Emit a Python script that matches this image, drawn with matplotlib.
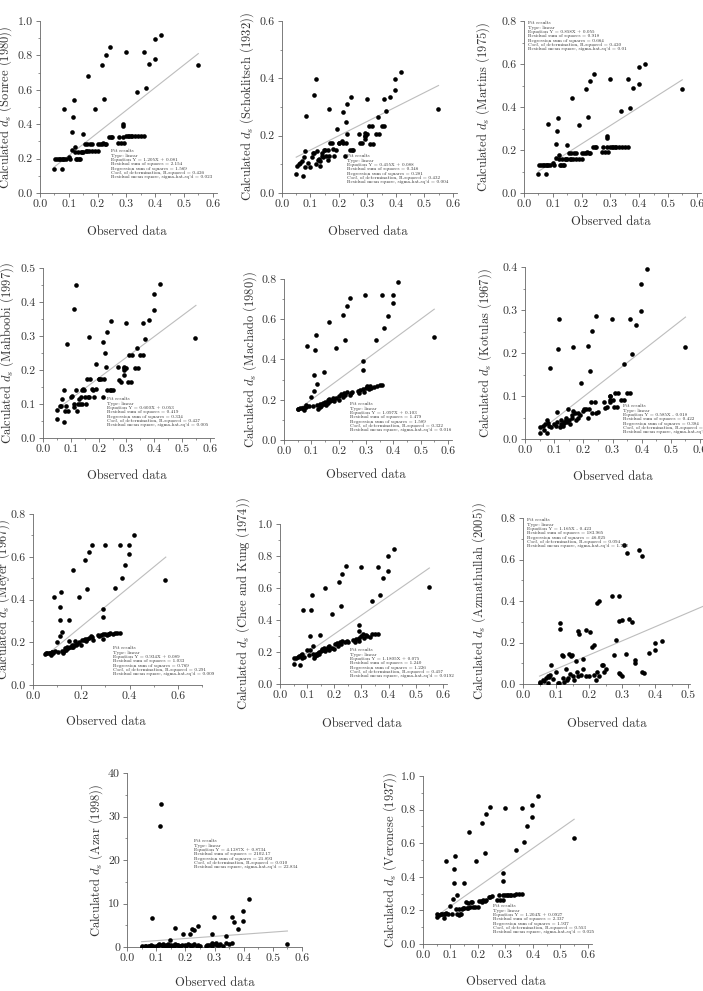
import matplotlib
matplotlib.use("Agg")
import matplotlib.pyplot as plt
from matplotlib.ticker import MultipleLocator, AutoMinorLocator, FormatStrFormatter

plt.rcParams['font.family'] = 'serif'
plt.rcParams['font.serif'] = ['cmr10', 'DejaVu Serif']
plt.rcParams['mathtext.fontset'] = 'cm'
plt.rcParams['axes.formatter.use_mathtext'] = True
plt.rcParams['axes.unicode_minus'] = False

# observed scour depths (shared by every panel)
obs_up = [0.085, 0.111, 0.113, 0.118, 0.148, 0.166, 0.192, 0.216, 0.224, 0.230, 0.243,
          0.290, 0.290, 0.298, 0.338, 0.360, 0.367, 0.380, 0.398, 0.398, 0.419, 0.548]
obs_low = [0.050, 0.052, 0.060, 0.065, 0.070, 0.075, 0.077, 0.080, 0.082, 0.090,
           0.100, 0.105, 0.110, 0.120, 0.122, 0.125, 0.130, 0.132, 0.135, 0.140,
           0.142, 0.145, 0.150, 0.155, 0.160, 0.162, 0.165, 0.170, 0.175, 0.180,
           0.182, 0.190, 0.200, 0.202, 0.210, 0.215, 0.220, 0.225, 0.230, 0.240,
           0.245, 0.250, 0.270, 0.275, 0.280, 0.290, 0.292, 0.300, 0.305, 0.310,
           0.315, 0.320, 0.330, 0.340, 0.350, 0.360]
observed = obs_up + obs_low

# calculated values, same order as `observed`
calc_sonree = [0.49, 0.355, 0.444, 0.54, 0.344, 0.68, 0.488, 0.747, 0.544, 0.80, 0.85,
               0.40, 0.39, 0.817, 0.587, 0.817, 0.61, 0.751, 0.898, 0.778, 0.921, 0.743,
               0.14, 0.20, 0.20, 0.20, 0.20, 0.14, 0.20, 0.20, 0.20, 0.20,
               0.21, 0.20, 0.25, 0.24, 0.27, 0.20, 0.20, 0.24, 0.20, 0.20,
               0.24, 0.24, 0.24, 0.285, 0.245, 0.285, 0.245, 0.245, 0.285, 0.285,
               0.245, 0.245, 0.245, 0.285, 0.285, 0.285, 0.29, 0.285, 0.285, 0.328,
               0.328, 0.328, 0.29, 0.328, 0.29, 0.328, 0.29, 0.33, 0.33, 0.33,
               0.33, 0.33, 0.33, 0.33, 0.33, 0.33]
calc_schoklitsch = [0.269, 0.14, 0.342, 0.397, 0.15, 0.292, 0.222, 0.283, 0.249, 0.309, 0.336,
                    0.21, 0.20, 0.329, 0.264, 0.329, 0.286, 0.336, 0.398, 0.359, 0.422, 0.294,
                    0.065, 0.095, 0.10, 0.105, 0.11, 0.06, 0.125, 0.145, 0.09, 0.105,
                    0.09, 0.125, 0.14, 0.10, 0.145, 0.115, 0.12, 0.095, 0.11, 0.13,
                    0.14, 0.125, 0.15, 0.13, 0.15, 0.115, 0.13, 0.175, 0.175, 0.155,
                    0.13, 0.15, 0.175, 0.175, 0.18, 0.175, 0.13, 0.175, 0.205, 0.15,
                    0.15, 0.15, 0.205, 0.175, 0.175, 0.20, 0.19, 0.205, 0.235, 0.17,
                    0.235, 0.17, 0.205, 0.205, 0.235, 0.235]
calc_martins = [0.32, 0.23, 0.29, 0.35, 0.224, 0.443, 0.317, 0.483, 0.352, 0.522, 0.554,
                0.263, 0.255, 0.531, 0.383, 0.531, 0.397, 0.49, 0.584, 0.507, 0.60, 0.483,
                0.09, 0.128, 0.128, 0.128, 0.128, 0.09, 0.128, 0.128, 0.128, 0.128,
                0.14, 0.128, 0.165, 0.158, 0.175, 0.128, 0.128, 0.158, 0.128, 0.128,
                0.158, 0.158, 0.158, 0.185, 0.158, 0.185, 0.158, 0.158, 0.185, 0.185,
                0.158, 0.158, 0.158, 0.185, 0.185, 0.185, 0.19, 0.185, 0.185, 0.215,
                0.215, 0.215, 0.19, 0.215, 0.19, 0.215, 0.19, 0.215, 0.215, 0.215,
                0.215, 0.215, 0.215, 0.215, 0.215, 0.215]
calc_mahboobi = [0.276, 0.10, 0.379, 0.449, 0.14, 0.296, 0.218, 0.281, 0.25, 0.311, 0.343,
                 0.21, 0.205, 0.338, 0.265, 0.338, 0.291, 0.346, 0.424, 0.377, 0.453, 0.293,
                 0.055, 0.082, 0.095, 0.095, 0.115, 0.047, 0.14, 0.08, 0.095, 0.08,
                 0.12, 0.125, 0.09, 0.14, 0.08, 0.10, 0.115, 0.10, 0.12, 0.14,
                 0.10, 0.145, 0.12, 0.10, 0.175, 0.12, 0.12, 0.175, 0.145, 0.14,
                 0.12, 0.145, 0.175, 0.175, 0.175, 0.12, 0.175, 0.21, 0.14, 0.14,
                 0.14, 0.14, 0.21, 0.17, 0.165, 0.185, 0.20, 0.205, 0.165, 0.245,
                 0.165, 0.245, 0.205, 0.205, 0.245, 0.245]
calc_machado = [0.468, 0.322, 0.445, 0.521, 0.337, 0.588, 0.455, 0.622, 0.497, 0.667, 0.704,
                0.395, 0.349, 0.719, 0.498, 0.719, 0.559, 0.614, 0.719, 0.68, 0.783, 0.51,
                0.155, 0.155, 0.158, 0.16, 0.158, 0.148, 0.165, 0.172, 0.165, 0.17,
                0.212, 0.17, 0.244, 0.175, 0.277, 0.155, 0.165, 0.18, 0.17, 0.18,
                0.185, 0.18, 0.19, 0.175, 0.20, 0.185, 0.205, 0.195, 0.20, 0.21,
                0.195, 0.21, 0.20, 0.22, 0.23, 0.215, 0.235, 0.225, 0.24, 0.225,
                0.235, 0.24, 0.245, 0.235, 0.25, 0.255, 0.24, 0.26, 0.27, 0.255,
                0.27, 0.26, 0.265, 0.27, 0.275, 0.275]
calc_kotulas = [0.165, 0.062, 0.21, 0.28, 0.07, 0.215, 0.13, 0.217, 0.159, 0.252, 0.285,
                0.10, 0.09, 0.278, 0.174, 0.278, 0.198, 0.266, 0.36, 0.297, 0.395, 0.215,
                0.015, 0.027, 0.03, 0.022, 0.035, 0.014, 0.045, 0.038, 0.03, 0.028,
                0.035, 0.03, 0.04, 0.028, 0.045, 0.035, 0.03, 0.04, 0.037, 0.045,
                0.05, 0.04, 0.045, 0.035, 0.055, 0.05, 0.065, 0.06, 0.045, 0.05,
                0.06, 0.055, 0.065, 0.07, 0.07, 0.048, 0.07, 0.085, 0.06, 0.085,
                0.06, 0.062, 0.085, 0.072, 0.075, 0.085, 0.10, 0.09, 0.075, 0.108,
                0.075, 0.108, 0.09, 0.09, 0.108, 0.108]
calc_meyer = [0.41, 0.305, 0.367, 0.433, 0.305, 0.539, 0.413, 0.586, 0.448, 0.62, 0.653,
              0.355, 0.32, 0.656, 0.456, 0.656, 0.50, 0.563, 0.656, 0.613, 0.703, 0.492,
              0.145, 0.15, 0.148, 0.15, 0.152, 0.14, 0.155, 0.155, 0.15, 0.16,
              0.20, 0.155, 0.231, 0.16, 0.25, 0.15, 0.16, 0.175, 0.165, 0.175,
              0.178, 0.175, 0.205, 0.18, 0.18, 0.185, 0.18, 0.185, 0.205, 0.185,
              0.19, 0.20, 0.185, 0.21, 0.21, 0.215, 0.205, 0.215, 0.22, 0.23,
              0.225, 0.21, 0.235, 0.23, 0.235, 0.215, 0.24, 0.24, 0.235, 0.24,
              0.24, 0.242, 0.24, 0.242, 0.242, 0.242]
calc_chee_kung = [0.465, 0.298, 0.465, 0.558, 0.306, 0.60, 0.4375, 0.6375, 0.49, 0.69, 0.74,
                  0.367, 0.333, 0.729, 0.517, 0.729, 0.558, 0.6625, 0.798, 0.708, 0.844, 0.604,
                  0.125, 0.16, 0.165, 0.17, 0.175, 0.12, 0.18, 0.165, 0.185, 0.17,
                  0.21, 0.18, 0.215, 0.19, 0.24, 0.165, 0.175, 0.19, 0.18, 0.195,
                  0.20, 0.19, 0.205, 0.22, 0.21, 0.225, 0.205, 0.22, 0.23, 0.215,
                  0.235, 0.225, 0.22, 0.25, 0.255, 0.24, 0.26, 0.25, 0.27, 0.26,
                  0.27, 0.265, 0.275, 0.265, 0.28, 0.29, 0.27, 0.30, 0.31, 0.29,
                  0.305, 0.30, 0.295, 0.31, 0.31, 0.315]
calc_azmathullah = [0.09, 0.265, 0.294, 0.14, 0.14, 0.254, 0.259, 0.19, 0.39, 0.40, 0.09,
                    0.426, 0.305, 0.308, 0.10, 0.618, 0.053, 0.15, 0.196, 0.165, 0.209, 0.25,
                    0.005, 0.01, 0.02, 0.015, 0.03, 0.04, 0.005, 0.035, 0.045, 0.025,
                    0.06, 0.005, 0.005, 0.03, 0.135, 0.01, 0.07, 0.02, 0.03, 0.145,
                    0.05, 0.135, 0.04, 0.02, 0.11, 0.06, 0.04, 0.24, 0.045, 0.12,
                    0.07, 0.04, 0.04, 0.25, 0.18, 0.045, 0.02, 0.06, 0.04, 0.09,
                    0.06, 0.07, 0.426, 0.14, 0.21, 0.055, 0.05, 0.04, 0.668, 0.145,
                    0.631, 0.312, 0.297, 0.115, 0.646, 0.06]
calc_azar = [6.6, 0.5, 27.8, 32.8, 1.6, 4.3, 3.1, 3.1, 4.1, 3.9, 4.9,
             2.9, 1.0, 7.0, 2.5, 7.0, 5.7, 4.1, 8.3, 6.0, 11.0, 0.6,
             0.2, 0.1, 0.3, 0.2, 0.1, 0.2, 0.3, 0.1, 0.4, 0.2,
             0.3, 0.5, 0.6, 0.4, 0.7, 0.3, 0.2, 0.5, 0.3, 0.6,
             0.4, 0.3, 0.5, 0.2, 0.4, 0.3, 0.6, 0.5, 0.4, 0.3,
             0.2, 0.4, 0.5, 0.3, 0.6, 0.4, 0.3, 0.5, 0.7, 0.2,
             0.4, 0.3, 0.2, 0.5, 0.4, 0.6, 0.3, 0.8, 1.0, 0.4,
             0.5, 0.7, 0.3, 0.9, 0.8, 0.9]
calc_veronese = [0.494, 0.362, 0.445, 0.526, 0.362, 0.664, 0.494, 0.721, 0.541, 0.773, 0.816,
                 0.421, 0.377, 0.812, 0.559, 0.812, 0.609, 0.704, 0.83, 0.757, 0.883, 0.628,
                 0.16, 0.18, 0.175, 0.18, 0.18, 0.155, 0.18, 0.18, 0.185, 0.18,
                 0.225, 0.18, 0.265, 0.21, 0.289, 0.18, 0.175, 0.21, 0.18, 0.18,
                 0.21, 0.215, 0.215, 0.25, 0.215, 0.245, 0.215, 0.22, 0.25, 0.25,
                 0.22, 0.22, 0.22, 0.255, 0.255, 0.25, 0.26, 0.255, 0.26, 0.28,
                 0.28, 0.285, 0.26, 0.29, 0.26, 0.29, 0.26, 0.29, 0.29, 0.29,
                 0.29, 0.29, 0.29, 0.295, 0.295, 0.295]

names = ['Sonree (1980)', 'Schoklitsch (1932)', 'Martins (1975)', 'Mahboobi (1997)',
         'Machado (1980)', 'Kotulas (1967)', 'Meyer (1967)', 'Chee and Kung (1974)',
         'Azmathullah (2005)', 'Azar (1998)', 'Veronese (1937)']
calculated = [calc_sonree, calc_schoklitsch, calc_martins, calc_mahboobi, calc_machado,
              calc_kotulas, calc_meyer, calc_chee_kung, calc_azmathullah, calc_azar,
              calc_veronese]

# fitted lines
fit_slope = [1.317, 0.50, 0.852, 0.611, 1.0, 0.53, 0.928, 1.18, 0.68, 4.92, 1.15]
fit_intercept = [0.086, 0.10, 0.058, 0.054, 0.10, -0.008, 0.088, 0.076, 0.004, 0.97, 0.11]

# numbers printed in the fit-results boxes
fit_eq = ['1.205X + 0.081', '0.455X + 0.088', '0.858X + 0.055', '0.600X + 0.053',
          '1.097X + 0.103', '0.585X - 0.018', '0.934X + 0.089', '1.1805X + 0.075',
          '1.165X - 0.423', '4.1287X + 0.8734', '1.204X + 0.0927']
fit_rss = ['2.154', '0.346', '0.918', '0.419', '1.479', '0.422', '1.033', '1.240',
           '183.965', '2102.17', '2.337']
fit_reg = ['1.569', '0.281', '0.664', '0.334', '1.589', '0.384', '0.769', '1.226',
           '46.025', '21.893', '1.937']
fit_r2 = ['0.426', '0.432', '0.420', '0.427', '0.322', '0.387', '0.291', '0.457',
          '0.094', '0.010', '0.553']
fit_ms = ['0.023', '0.004', '0.01', '0.005', '0.016', '0.005', '0.009', '0.0192',
          '1.752', '22.834', '0.025']

W, H = 703, 991
fig = plt.figure(figsize=(W / 100, H / 100), dpi=100)

# layout in pixels: left, top, right, bottom, xmax, ymax, ystep, xstep,
# ylabel x, xlabel y, fit text x, fit text y
layout = [
    (40, 21, 217, 193, 0.615, 1.0, 0.2, 0.1, 5, 232, 111, 149),
    (282, 21, 457, 193, 0.615, 0.6, 0.2, 0.1, 247, 232, 347, 154),
    (524, 21, 701, 193, 0.615, 0.8, 0.2, 0.1, 483, 222, 528, 21),
    (43, 268, 214, 438, 0.615, 0.5, 0.1, 0.1, 7, 476, 107, 397),
    (284, 279, 452, 440, 0.615, 0.8, 0.2, 0.1, 250, 475, 350, 402),
    (525, 267, 703, 439, 0.61, 0.4, 0.1, 0.1, 485, 477, 623, 404),
    (33, 514, 202, 685, 0.70, 0.8, 0.2, 0.2, 3, 722, 113, 646),
    (280, 524, 447, 684, 0.615, 1.0, 0.2, 0.1, 243, 724, 350, 648),
    (523, 518, 690, 684, 0.505, 0.8, 0.2, 0.1, 479, 724, 527, 518),
    (127, 773, 302, 947, 0.60, 40, 10, 0.1, 96, 983, 194, 839),
    (423, 776, 592, 944, 0.615, 1.0, 0.2, 0.1, 390, 982, 493, 904),
]

ink = '#333333'
axis_col = '#666666'

for i, (l, t, r, b, xmax, ymax, ystep, xstep, ylx, xly, tx, ty) in enumerate(layout):
    ax = fig.add_axes([l / W, 1 - b / H, (r - l) / W, (b - t) / H])
    ax.scatter(observed, calculated[i], s=11, color='black', linewidths=0, zorder=3)
    xs = [0.05, 0.55]
    ax.plot(xs, [fit_slope[i] * x + fit_intercept[i] for x in xs],
            color='#bdbdbd', lw=0.8, zorder=2, clip_on=False)
    ax.set_xlim(0, xmax)
    ax.set_ylim(0, ymax)
    ax.xaxis.set_major_locator(MultipleLocator(xstep))
    ax.yaxis.set_major_locator(MultipleLocator(ystep))
    ax.xaxis.set_minor_locator(AutoMinorLocator(2))
    ax.yaxis.set_minor_locator(AutoMinorLocator(2))
    ax.xaxis.set_major_formatter(FormatStrFormatter('%.1f'))
    if ymax >= 10:
        ax.yaxis.set_major_formatter(FormatStrFormatter('%d'))
    else:
        ax.yaxis.set_major_formatter(FormatStrFormatter('%.1f'))
    for s in ['top', 'right']:
        ax.spines[s].set_visible(False)
    for s in ['left', 'bottom']:
        ax.spines[s].set_color(axis_col)
        ax.spines[s].set_linewidth(0.6)
    ax.tick_params(which='major', direction='out', length=3, width=0.6,
                   color=axis_col, labelcolor=ink, labelsize=8.5, pad=2)
    ax.tick_params(which='minor', direction='out', length=1.5, width=0.5, color=axis_col)
    ax.set_facecolor('none')

    fig.text(ylx / W, 1 - (t + b) / 2 / H, 'Calculated $d_s$ (' + names[i] + ')',
             rotation=90, ha='center', va='center', fontsize=9, color=ink)
    xc = l + (r - l) * min(0.6, xmax) / xmax / 2
    fig.text(xc / W, 1 - xly / H, 'Observed data', ha='center', va='center',
             fontsize=9, color=ink)

    box = ('Fit results\nType: linear\nEquation Y = ' + fit_eq[i] +
           '\nResidual sum of squares = ' + fit_rss[i] +
           '\nRegression sum of squares = ' + fit_reg[i] +
           '\nCoef. of determination, R-squared = ' + fit_r2[i] +
           "\nResidual mean square, sigma-hat-sq'd = " + fit_ms[i])
    fig.text(tx / W, 1 - ty / H, box, ha='left', va='top', fontsize=3.6,
             linespacing=1.05, color=ink)

fig.savefig('out.png', dpi=100)
